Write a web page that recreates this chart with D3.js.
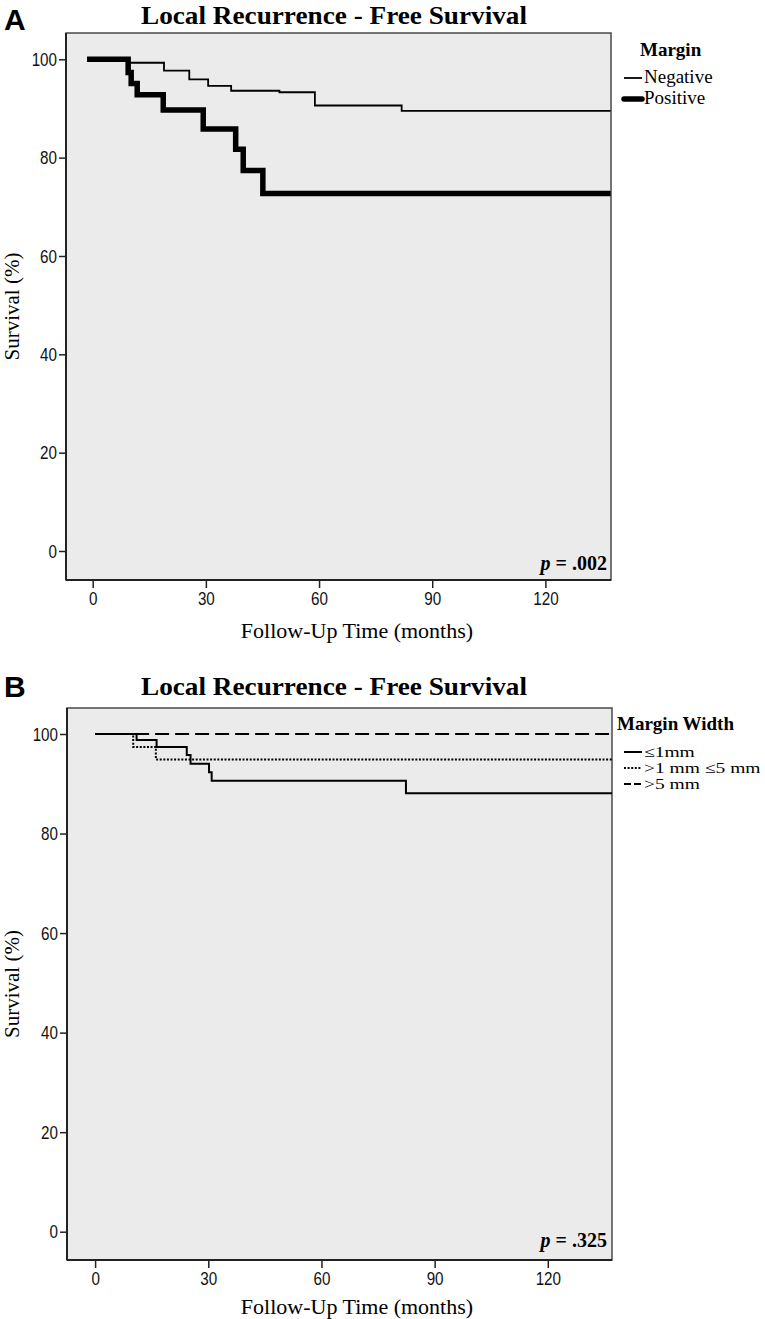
<!DOCTYPE html>
<html>
<head>
<meta charset="utf-8">
<script src="https://cdn.jsdelivr.net/npm/d3@7"></script>
<style>
  body { margin: 0; background: #fff; }
  svg { display: block; }
</style>
</head>
<body>
<div id="chart"></div>
<script>
// tick values shared by both panels
var xTicks = [0, 30, 60, 90, 120];
var yTicks = [0, 20, 40, 60, 80, 100];

// panel A : margin status (months, survival %)
var negTime = [-1.5, 9.5, 18.9, 25.6, 30.6, 36.7, 49.5, 58.9, 81.9, 137.3];
var negSurv = [100, 99.3, 97.7, 95.9, 94.6, 93.6, 93.3, 90.6, 89.5, 89.5];
var posTime = [-1.5, 9.4, 10.2, 11.8, 18.7, 29.3, 37.9, 39.9, 45.1, 137.3];
var posSurv = [100, 97.3, 95.1, 92.8, 89.7, 85.8, 81.7, 77.4, 72.7, 72.7];

// panel B : margin width
var le1Time = [0, 11.0, 16.3, 24.3, 25.3, 30.2, 30.9, 82.4, 137];
var le1Surv = [100, 98.8, 97.4, 95.8, 94.0, 92.3, 90.6, 88.1, 88.1];
var midTime = [0, 10.1, 16.1, 137];
var midSurv = [100, 97.4, 94.9, 94.9];
var gt5Time = [0, 137];
var gt5Surv = [100, 100];

var titleText = "Local Recurrence - Free Survival";
var legendA = ["Negative", "Positive"];
var legendB = ["\u22641mm", ">1 mm \u22645 mm", ">5 mm"];

var svg = d3.select("#chart").append("svg")
  .attr("width", 765)
  .attr("height", 1319);

var serif = "'Liberation Serif', 'Times New Roman', serif";
var sans = "'Liberation Sans', Arial, sans-serif";

function toPoints(t, s) {
  return t.map(function(d, i) { return {t: d, s: s[i]}; });
}

// rescale text horizontally (source uses a narrow face for ticks)
function squeeze(sel, f) {
  sel.each(function() {
    var w = this.getComputedTextLength();
    d3.select(this).attr("textLength", w * f).attr("lengthAdjust", "spacingAndGlyphs");
  });
}

function drawPanel(p) {
  var g = svg.append("g");

  var xScale = d3.scaleLinear().domain([0, 120]).range(p.xRange);
  var yScale = d3.scaleLinear().domain([0, 100]).range(p.yRange);

  // panel letter
  g.append("text")
    .attr("x", 4).attr("y", p.letterY)
    .attr("font-family", sans).attr("font-weight", "bold")
    .attr("font-size", "30px")
    .text(p.letter);

  // title
  g.append("text")
    .attr("x", 334).attr("y", p.titleY)
    .attr("text-anchor", "middle")
    .attr("font-family", serif).attr("font-weight", "bold")
    .attr("font-size", "26px")
    .attr("textLength", 386).attr("lengthAdjust", "spacingAndGlyphs")
    .text(titleText);

  // plot area
  g.append("rect")
    .attr("x", p.box[0]).attr("y", p.box[1])
    .attr("width", p.box[2] - p.box[0]).attr("height", p.box[3] - p.box[1])
    .attr("fill", "#ebebeb")
    .attr("stroke", "#4a4a4a").attr("stroke-width", 1.5);

  // axes
  var yAxis = d3.axisLeft(yScale).tickValues(yTicks).tickSize(7).tickPadding(2);
  var xAxis = d3.axisBottom(xScale).tickValues(xTicks).tickSize(8).tickPadding(4);

  var ya = g.append("g")
    .attr("transform", "translate(" + p.box[0] + ",0)")
    .call(yAxis);
  ya.select(".domain").remove();
  ya.append("line")
    .attr("x1", 0).attr("x2", 0).attr("y1", p.box[1]).attr("y2", p.box[3])
    .attr("stroke", "#222").attr("stroke-width", 2);

  var xa = g.append("g")
    .attr("transform", "translate(0," + p.box[3] + ")")
    .call(xAxis);
  xa.select(".domain").remove();
  xa.append("line")
    .attr("x1", p.box[0]).attr("x2", p.box[2]).attr("y1", 0).attr("y2", 0)
    .attr("stroke", "#222").attr("stroke-width", 2);

  g.selectAll(".tick line").attr("stroke", "#222").attr("stroke-width", 1.5);
  g.selectAll(".tick text")
    .attr("font-family", sans).attr("font-size", "19px").attr("fill", "#111");
  squeeze(g.selectAll(".tick text"), 0.8);

  // axis titles
  g.append("text")
    .attr("x", 357).attr("y", p.xTitleY)
    .attr("text-anchor", "middle")
    .attr("font-family", serif).attr("font-size", "22px")
    .text("Follow-Up Time (months)");

  var yMid = (p.box[1] + p.box[3]) / 2;
  g.append("text")
    .attr("transform", "translate(19," + yMid + ") rotate(-90)")
    .attr("text-anchor", "middle")
    .attr("font-family", serif).attr("font-size", "21px")
    .text("Survival (%)");

  // p value
  var pv = g.append("text")
    .attr("x", 607).attr("y", p.pY)
    .attr("text-anchor", "end")
    .attr("font-family", serif).attr("font-weight", "bold")
    .attr("font-size", "20px");
  pv.append("tspan").attr("font-style", "italic").text("p");
  pv.append("tspan").text(" = " + p.pValue);

  // survival curves
  var line = d3.line()
    .x(function(d) { return xScale(d.t); })
    .y(function(d) { return yScale(d.s); })
    .curve(d3.curveStepAfter);

  p.series.forEach(function(s) {
    g.append("path")
      .datum(toPoints(s.time, s.surv))
      .attr("fill", "none")
      .attr("stroke", "#000")
      .attr("stroke-width", s.width)
      .attr("stroke-dasharray", s.dash || null)
      .attr("d", line);
  });

  // legend
  g.append("text")
    .attr("x", p.legendX).attr("y", p.legendTitleY)
    .attr("font-family", serif).attr("font-weight", "bold")
    .attr("font-size", "19px")
    .text(p.legendTitle);

  p.series.forEach(function(s, i) {
    var ly = p.legendY[i];
    g.append("line")
      .attr("x1", 624).attr("x2", 642).attr("y1", ly).attr("y2", ly)
      .attr("stroke", "#000").attr("stroke-width", s.width)
      .attr("stroke-linecap", s.width > 3 ? "round" : "butt")
      .attr("stroke-dasharray", s.legendDash || null);
    var t = g.append("text")
      .attr("x", 644).attr("y", ly + 5)
      .attr("font-family", serif).attr("font-size", p.legendFont)
      .text(s.label);
    if (p.legendStretch) squeeze(t, p.legendStretch);
  });
}

drawPanel({
  letter: "A", letterY: 30, titleY: 24,
  box: [66, 33, 611, 580],
  xRange: [92.7, 545.4], yRange: [551, 59.3],
  xTitleY: 638, pY: 570, pValue: ".002",
  legendTitle: "Margin", legendX: 640, legendTitleY: 56,
  legendY: [78, 99], legendFont: "19px",
  series: [
    {time: negTime, surv: negSurv, width: 1.8, label: legendA[0]},
    {time: posTime, surv: posSurv, width: 5.5, label: legendA[1]}
  ]
});

drawPanel({
  letter: "B", letterY: 697, titleY: 695,
  box: [67, 708, 612, 1260],
  xRange: [95.1, 547.8], yRange: [1231.7, 734],
  xTitleY: 1314, pY: 1247, pValue: ".325",
  legendTitle: "Margin Width", legendX: 617, legendTitleY: 730,
  legendY: [752, 768, 784], legendFont: "15px", legendStretch: 1.3,
  series: [
    {time: le1Time, surv: le1Surv, width: 2, label: legendB[0]},
    {time: midTime, surv: midSurv, width: 2, dash: "2,1.6", legendDash: "2,1.6", label: legendB[1]},
    {time: gt5Time, surv: gt5Surv, width: 2, dash: "14,6", legendDash: "7,3", label: legendB[2]}
  ]
});
</script>
</body>
</html>
